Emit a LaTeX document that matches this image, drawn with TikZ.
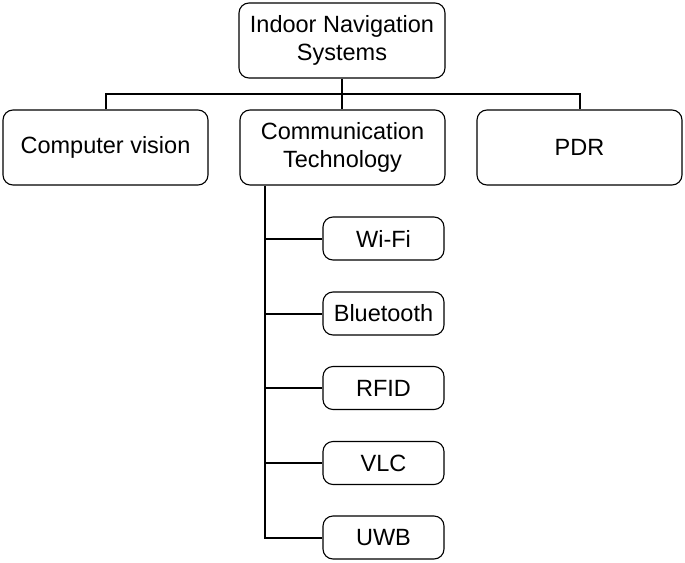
\documentclass[tikz,border=0pt]{standalone}
\usepackage{fontspec}
\setmainfont{Liberation Sans}
\begin{document}
\begin{tikzpicture}[x=1pt,y=1pt,
  box/.style={draw=black, line width=1.1pt, rounded corners=10pt, fill=white, align=center,
    font=\fontsize{23.5}{28}\selectfont, inner sep=0pt},
  bigbox/.style={box, minimum width=205pt, minimum height=75pt},
  smallbox/.style={box, minimum width=121pt, minimum height=43pt},
  conn/.style={draw=black, line width=2pt}]
\useasboundingbox (0,0) rectangle (685,-562);
\node[bigbox, minimum width=206pt] (top) at (342,-40.5) {Indoor Navigation\\Systems};
\node[bigbox] (cv) at (105.5,-147.5) {Computer vision};
\node[bigbox] (comm) at (342.5,-147.5) {Communication\\Technology};
\node[bigbox] (pdr) at (579.5,-147.5) {PDR};
\node[smallbox] (wifi) at (383.5,-238.5) {Wi-Fi};
\node[smallbox] (bt) at (383.5,-313.5) {Bluetooth};
\node[smallbox] (rfid) at (383.5,-388) {RFID};
\node[smallbox] (vlc) at (383.5,-463) {VLC};
\node[smallbox] (uwb) at (383.5,-537.5) {UWB};
\coordinate (bus) at (0,-94);
\coordinate (trunk) at (265,0);
\draw[conn] (top.south) -- (top.south |- comm.north);
\draw[conn] (cv.north) -- (cv.north |- bus) -- (pdr.north |- bus) -- (pdr.north);
\draw[conn] (comm.south -| trunk) -- (trunk |- uwb.west) -- (uwb.west);
\draw[conn] (trunk |- wifi.west) -- (wifi.west);
\draw[conn] (trunk |- bt.west) -- (bt.west);
\draw[conn] (trunk |- rfid.west) -- (rfid.west);
\draw[conn] (trunk |- vlc.west) -- (vlc.west);
\end{tikzpicture}
\end{document}
